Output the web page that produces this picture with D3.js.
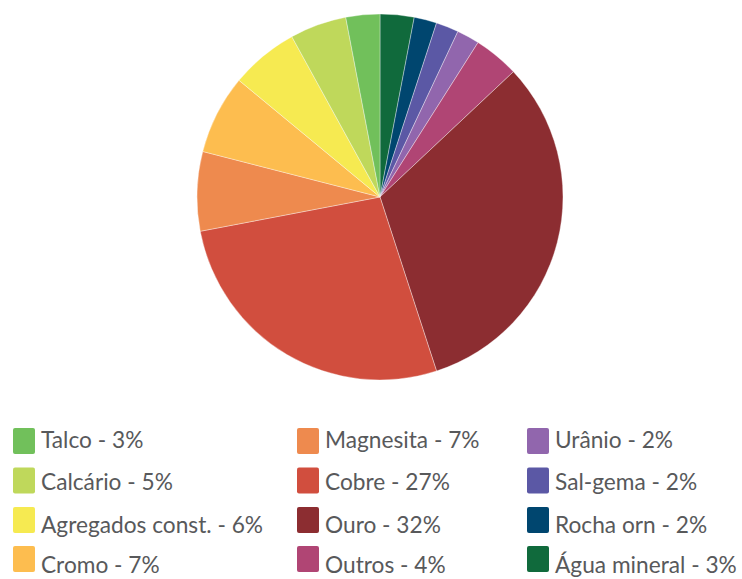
<!DOCTYPE html>
<html>
<head>
<meta charset="utf-8">
<script src="https://cdn.jsdelivr.net/npm/d3@7"></script>
<style>
  html, body { margin: 0; padding: 0; background: #fff; }
  svg { display: block; }
  .legend text { font-family: Lato, "Open Sans", sans-serif; font-size: 22.7px; fill: #58595b; }
</style>
</head>
<body>
<svg id="chart" width="742" height="579"></svg>
<script>
// Mineral production share, clockwise from 12 o'clock
const categories = ["Água mineral", "Rocha orn", "Sal-gema", "Urânio", "Outros", "Ouro",
                    "Cobre", "Magnesita", "Cromo", "Agregados const.", "Calcário", "Talco"];
const shares = [3, 2, 2, 2, 4, 32, 27, 7, 7, 6, 5, 3];
const colors = ["#106a3c", "#00466f", "#5b58a5", "#9166ad", "#b04574", "#8c2d31",
                "#d14e3e", "#ee8a4e", "#fdbd4f", "#f6ea51", "#bfd85b", "#71c05b"];

// Legend order (columns read top to bottom)
const legendOrder = ["Talco", "Calcário", "Agregados const.", "Cromo",
                     "Magnesita", "Cobre", "Ouro", "Outros",
                     "Urânio", "Sal-gema", "Rocha orn", "Água mineral"];

const svg = d3.select("#chart");
const cx = 380, cy = 197, radius = 183;

const data = categories.map((c, i) => ({ name: c, value: shares[i], color: colors[i] }));

const pie = d3.pie().value(d => d.value).sort(null);
const arc = d3.arc().innerRadius(0).outerRadius(radius);

svg.append("g")
  .attr("transform", `translate(${cx},${cy})`)
  .selectAll("path")
  .data(pie(data))
  .join("path")
  .attr("d", arc)
  .attr("fill", d => d.data.color)
  .attr("stroke", "rgba(255,255,255,0.6)")
  .attr("stroke-width", 0.6);

// Legend: three columns of four entries
const colX = [13, 297, 527];
const swatchY = [428, 467.5, 507, 546];
const textY = [448, 490, 533, 573];
const byName = new Map(data.map(d => [d.name, d]));

const legend = svg.append("g").attr("class", "legend");
legendOrder.forEach((name, i) => {
  const d = byName.get(name);
  const col = Math.floor(i / 4), row = i % 4;
  const g = legend.append("g");
  g.append("rect")
    .attr("x", colX[col]).attr("y", swatchY[row])
    .attr("width", 22).attr("height", 26)
    .attr("rx", 2)
    .attr("fill", d.color);
  g.append("text")
    .attr("x", colX[col] + 28).attr("y", textY[row])
    .text(`${d.name} - ${d.value}%`);
});
</script>
</body>
</html>
